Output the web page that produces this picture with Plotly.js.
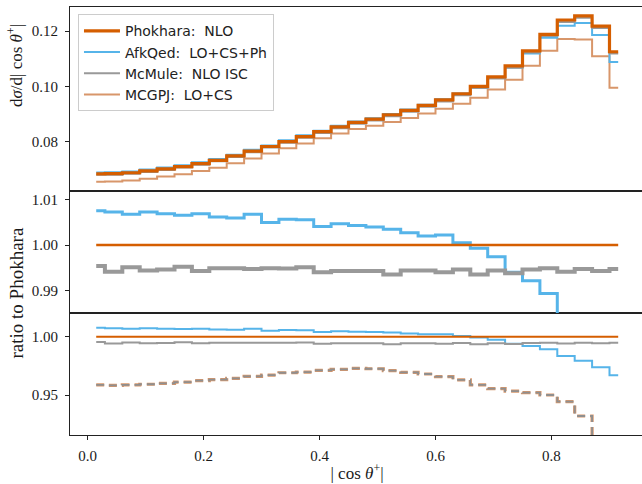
<!DOCTYPE html>
<html>
<head>
<meta charset="utf-8">
<script src="https://cdn.plot.ly/plotly-3.0.1.min.js"></script>
<style>
html,body{margin:0;padding:0;background:#fff;overflow:hidden;width:642px;height:484px;}
#plot{width:646px;height:484px;}
</style>
</head>
<body>
<div id="plot"></div>
<script>
// |cos theta+| bin centres (step drawn at bin mid-points)
const cosTheta = [0.015, 0.045, 0.075, 0.105, 0.135, 0.165, 0.195, 0.225, 0.255, 0.285,
                  0.315, 0.345, 0.375, 0.405, 0.435, 0.465, 0.495, 0.525, 0.555, 0.585,
                  0.615, 0.645, 0.675, 0.705, 0.735, 0.765, 0.795, 0.825, 0.855, 0.885, 0.915];

// dsigma / d|cos theta+|
const phokhara = [0.0683, 0.0684, 0.0687, 0.0694, 0.0701, 0.0709, 0.0720, 0.0732, 0.0748, 0.0765,
                  0.0782, 0.0800, 0.0818, 0.0836, 0.0853, 0.0869, 0.0881, 0.0897, 0.0913, 0.0931,
                  0.0951, 0.0973, 0.1000, 0.1034, 0.1074, 0.1128, 0.1188, 0.1240, 0.1255, 0.1218, 0.1125];
const afkqed   = [0.06882, 0.06890, 0.06917, 0.06991, 0.07058, 0.07137, 0.07250, 0.07365, 0.07525, 0.07702,
                  0.07859, 0.08046, 0.08226, 0.08394, 0.08570, 0.08727, 0.08845, 0.09001, 0.09155, 0.09329,
                  0.09531, 0.09735, 0.09993, 0.10313, 0.10676, 0.11191, 0.11753, 0.12195, 0.12291, 0.11860, 0.10878];
const mcmule   = [0.06799, 0.06800, 0.06836, 0.06901, 0.06972, 0.07056, 0.07159, 0.07283, 0.07442, 0.07609,
                  0.07780, 0.07958, 0.08140, 0.08310, 0.08481, 0.08640, 0.08760, 0.08912, 0.09079, 0.09258,
                  0.09453, 0.09677, 0.09935, 0.10282, 0.10673, 0.11219, 0.11819, 0.12327, 0.12483, 0.12111, 0.11190];
const mcgpj    = [0.06547, 0.06555, 0.06586, 0.06657, 0.06730, 0.06814, 0.06929, 0.07050, 0.07213, 0.07390,
                  0.07563, 0.07753, 0.07932, 0.08119, 0.08291, 0.08455, 0.08568, 0.08709, 0.08851, 0.09012,
                  0.09184, 0.09369, 0.09586, 0.09879, 0.10240, 0.10739, 0.11286, 0.11709, 0.11697, 0.11084, 0.09945];

// ratios to Phokhara
const ratioPhokhara = [1, 1, 1, 1, 1, 1, 1, 1, 1, 1, 1, 1, 1, 1, 1, 1, 1, 1, 1, 1, 1, 1, 1, 1, 1, 1, 1, 1, 1, 1, 1];
const ratioAfkqed = [1.0076, 1.0073, 1.0068, 1.0073, 1.0069, 1.0066, 1.0069, 1.0062, 1.0060, 1.0068,
                     1.0050, 1.0057, 1.0056, 1.0041, 1.0047, 1.0043, 1.0040, 1.0035, 1.0027, 1.0020,
                     1.0022, 1.0005, 0.9993, 0.9974, 0.9940, 0.9921, 0.9893, 0.9835, 0.9794, 0.9737, 0.9669];
const ratioMcmule = [0.9954, 0.9941, 0.9951, 0.9944, 0.9946, 0.9952, 0.9943, 0.9949, 0.9949, 0.9947,
                     0.9949, 0.9948, 0.9951, 0.9940, 0.9943, 0.9943, 0.9943, 0.9935, 0.9944, 0.9944,
                     0.9940, 0.9946, 0.9935, 0.9944, 0.9938, 0.9946, 0.9949, 0.9941, 0.9947, 0.9943, 0.9947];
const ratioMcgpj  = [0.9586, 0.9583, 0.9586, 0.9592, 0.9600, 0.9611, 0.9623, 0.9631, 0.9643, 0.9660,
                     0.9671, 0.9691, 0.9697, 0.9712, 0.9720, 0.9729, 0.9725, 0.9709, 0.9694, 0.9680,
                     0.9657, 0.9629, 0.9586, 0.9554, 0.9534, 0.9520, 0.9500, 0.9443, 0.9320, 0.9100, 0.8840];

const names = ['Phokhara:  NLO', 'AfkQed:  LO+CS+Ph', 'McMule:  NLO ISC', 'MCGPJ:  LO+CS'];
const topTicks = [0.08, 0.10, 0.12];
const midTicks = [0.99, 1.00, 1.01];
const botTicks = [0.95, 1.00];
const xTicks = [0.0, 0.2, 0.4, 0.6, 0.8];

const C_PHO = '#d55e00', C_AFK = '#56b4e9', C_MCM = '#999999', C_MCG = '#d8966a';

function step(y, color, width, xa, ya, extra) {
  return Object.assign({
    type: 'scatter', mode: 'lines', x: cosTheta, y: y, xaxis: xa, yaxis: ya,
    line: {shape: 'hvh', color: color, width: width}, showlegend: false, hoverinfo: 'skip'
  }, extra || {});
}

const traces = [
  // top panel
  step(mcgpj, C_MCG, 2, 'x3', 'y', {name: names[3], showlegend: true, legendrank: 4}),
  step(afkqed, C_AFK, 2, 'x3', 'y', {name: names[1], showlegend: true, legendrank: 2}),
  step(mcmule, C_MCM, 2, 'x3', 'y', {name: names[2], showlegend: true, legendrank: 3}),
  step(phokhara, C_PHO, 3.2, 'x3', 'y', {name: names[0], showlegend: true, legendrank: 1}),
  // middle ratio panel
  step(ratioAfkqed, C_AFK, 3, 'x2', 'y2'),
  step(ratioMcmule, C_MCM, 4, 'x2', 'y2'),
  step(ratioPhokhara, C_PHO, 2.6, 'x2', 'y2'),
  // bottom ratio panel
  step(ratioAfkqed, C_AFK, 2, 'x', 'y3'),
  step(ratioMcmule, C_MCM, 2, 'x', 'y3'),
  step(ratioPhokhara, C_PHO, 2, 'x', 'y3'),
  step(ratioMcgpj, C_MCG, 3.2, 'x', 'y3', {line: {shape: 'hvh', color: C_MCG, width: 3.2, dash: '8px,5px'}}),
  step(ratioMcgpj, '#8f8f8f', 1.8, 'x', 'y3', {line: {shape: 'hvh', color: '#8f8f8f', width: 1.8, dash: '8px,5px'}})
];

const tickFont = {family: 'Liberation Serif, DejaVu Serif, serif', size: 15, color: '#1a1a1a'};
const titleFont = {family: 'Liberation Serif, DejaVu Serif, serif', size: 17, color: '#1a1a1a'};
const xrange = [-0.0302, 0.9595];
function xax(extra) {
  return Object.assign({
    range: xrange, showgrid: false, zeroline: false, showline: true, mirror: true,
    linecolor: '#222', linewidth: 1, ticks: '', showticklabels: false
  }, extra || {});
}
function yax(extra) {
  return Object.assign({
    showgrid: false, zeroline: false, showline: true, mirror: true,
    linecolor: '#222', linewidth: 1, ticks: 'outside', ticklen: 4, tickwidth: 1, tickcolor: '#222',
    tickfont: tickFont, tickformat: '.2f', tickmode: 'array', ticklabelstandoff: 4
  }, extra || {});
}

const layout = {
  width: 646, height: 484,
  margin: {l: 70, r: 2, t: 7, b: 49},
  paper_bgcolor: '#ffffff', plot_bgcolor: '#ffffff',
  showlegend: true,
  legend: {
    x: 0.0139, y: 0.983, xanchor: 'left', yanchor: 'top',
    bgcolor: 'rgba(255,255,255,0.85)', bordercolor: '#cccccc', borderwidth: 1,
    font: {family: 'DejaVu Sans, sans-serif', size: 14, color: '#222'},
    itemwidth: 36, tracegroupgap: 0
  },
  xaxis: xax({anchor: 'y3', domain: [0, 1], ticks: 'outside', ticklen: 4, tickwidth: 1, tickcolor: '#222',
              showticklabels: true, tickmode: 'array', tickvals: xTicks, tickformat: '.1f',
              tickfont: tickFont, ticklabelstandoff: 3,
              title: {text: '| cos <i>θ</i><sup>+</sup>|', font: titleFont, standoff: 4}}),
  xaxis2: xax({anchor: 'y2', matches: 'x'}),
  xaxis3: xax({anchor: 'y', matches: 'x'}),
  yaxis: yax({anchor: 'x3', domain: [0.5708, 1], range: [0.0622, 0.1287], tickvals: topTicks}),
  yaxis2: yax({anchor: 'x2', domain: [0.285, 0.5708], range: [0.985, 1.012], tickvals: midTicks}),
  yaxis3: yax({anchor: 'x', domain: [0, 0.285], range: [0.9157, 1.0203], tickvals: botTicks}),
  annotations: [
    {text: 'd<i>σ</i>/d| cos <i>θ</i><sup>+</sup>|', xref: 'paper', yref: 'paper',
     x: -0.0958, y: 0.862, xanchor: 'center', yanchor: 'middle', textangle: -90, showarrow: false,
     font: titleFont},
    {text: 'ratio to Phokhara', xref: 'paper', yref: 'paper',
     x: -0.093, y: 0.332, xanchor: 'center', yanchor: 'middle', textangle: -90, showarrow: false,
     font: {family: 'Liberation Serif, DejaVu Serif, serif', size: 19, color: '#1a1a1a'}}
  ]
};

Plotly.newPlot('plot', traces, layout, {staticPlot: true, displayModeBar: false});
</script>
</body>
</html>
